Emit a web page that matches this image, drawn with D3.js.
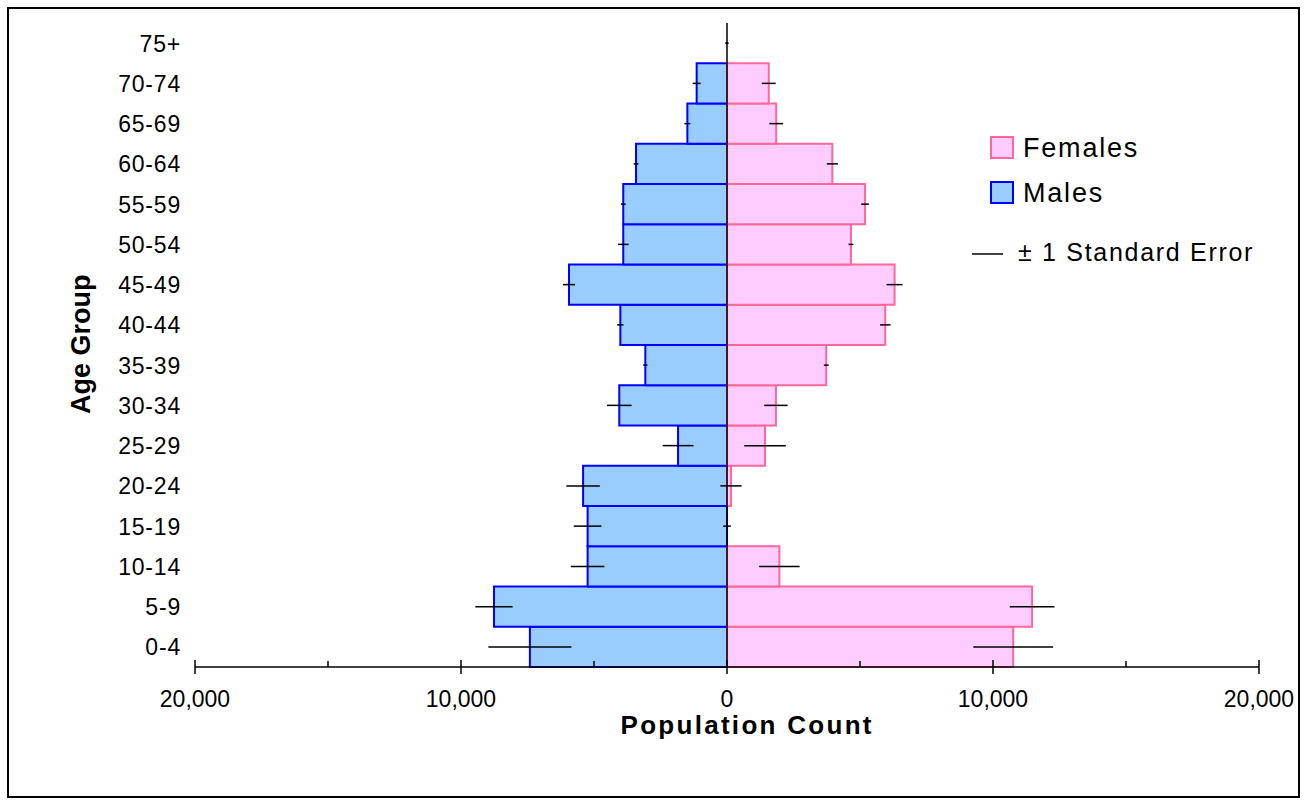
<!DOCTYPE html>
<html>
<head>
<meta charset="utf-8">
<script src="https://cdn.jsdelivr.net/npm/d3@7"></script>
<style>
  body { margin: 0; background: #fff; }
  svg { display: block; font-family: Arial, "Liberation Sans", sans-serif; }
</style>
</head>
<body>
<svg id="chart" width="1307" height="805"></svg>
<script>
const ageGroups = ["0-4", "5-9", "10-14", "15-19", "20-24", "25-29", "30-34", "35-39",
  "40-44", "45-49", "50-54", "55-59", "60-64", "65-69", "70-74", "75+"];
const males = [7410, 8760, 5240, 5240, 5410, 1840, 4050, 3070, 4010, 5940, 3900, 3900, 3420, 1490, 1140, 0];
const maleSE = [1560, 700, 630, 520, 630, 580, 460, 80, 120, 225, 200, 90, 90, 110, 150, 55];
const females = [10760, 11470, 1970, 0, 150, 1430, 1840, 3730, 5950, 6300, 4660, 5190, 3960, 1850, 1570, 0];
const femaleSE = [1500, 840, 760, 145, 400, 780, 440, 90, 200, 300, 90, 145, 210, 260, 260, 55];
const xTicks = [-20000, -10000, 0, 10000, 20000];
const xMinorTicks = [-15000, -5000, 5000, 15000];

const svg = d3.select("#chart");

// outer frame
svg.append("rect")
  .attr("x", 8).attr("y", 8)
  .attr("width", 1291).attr("height", 789)
  .attr("fill", "#fff")
  .attr("stroke", "#000")
  .attr("stroke-width", 2);

const x = d3.scaleLinear().domain([-20000, 20000]).range([195, 1259]);
const y = d3.scaleBand().domain(ageGroups.slice().reverse()).range([23, 667]).padding(0);

// bars
ageGroups.forEach((g, i) => {
  svg.append("rect")
    .attr("x", x(-males[i]))
    .attr("y", y(g))
    .attr("width", x(0) - x(-males[i]))
    .attr("height", y.bandwidth())
    .attr("fill", "#99ccff")
    .attr("stroke", "#0000ff")
    .attr("stroke-width", 2);
});
ageGroups.forEach((g, i) => {
  svg.append("rect")
    .attr("x", x(0))
    .attr("y", y(g))
    .attr("width", x(females[i]) - x(0))
    .attr("height", y.bandwidth())
    .attr("fill", "#ffccff")
    .attr("stroke", "#ff6699")
    .attr("stroke-width", 2);
});

// centre axis
svg.append("line")
  .attr("x1", x(0)).attr("x2", x(0))
  .attr("y1", 23).attr("y2", 667)
  .attr("stroke", "#000").attr("stroke-width", 1.5);

// error bars
ageGroups.forEach((g, i) => {
  const cy = y(g) + y.bandwidth() / 2;
  svg.append("line")
    .attr("x1", x(-males[i] - maleSE[i])).attr("x2", x(-males[i] + maleSE[i]))
    .attr("y1", cy).attr("y2", cy)
    .attr("stroke", "#000").attr("stroke-width", 1.5);
  svg.append("line")
    .attr("x1", x(females[i] - femaleSE[i])).attr("x2", x(females[i] + femaleSE[i]))
    .attr("y1", cy).attr("y2", cy)
    .attr("stroke", "#000").attr("stroke-width", 1.5);
});

// x axis
svg.append("line")
  .attr("x1", x(-20000)).attr("x2", x(20000))
  .attr("y1", 667).attr("y2", 667)
  .attr("stroke", "#000").attr("stroke-width", 1.5);

xTicks.forEach(t => {
  svg.append("line")
    .attr("x1", x(t)).attr("x2", x(t))
    .attr("y1", 660).attr("y2", 674)
    .attr("stroke", "#000").attr("stroke-width", 1.5);
  svg.append("text")
    .attr("x", x(t))
    .attr("y", 707)
    .attr("text-anchor", "middle")
    .attr("font-size", 23)
    .text(d3.format(",")(Math.abs(t)));
});
xMinorTicks.forEach(t => {
  svg.append("line")
    .attr("x1", x(t)).attr("x2", x(t))
    .attr("y1", 661).attr("y2", 667)
    .attr("stroke", "#000").attr("stroke-width", 1.5);
});

// category labels
ageGroups.forEach(g => {
  svg.append("text")
    .attr("x", 181)
    .attr("y", y(g) + y.bandwidth() / 2 + 8.5)
    .attr("text-anchor", "end")
    .attr("font-size", 23)
    .attr("letter-spacing", 0.8)
    .text(g);
});

// axis titles
svg.append("text")
  .attr("x", 746)
  .attr("y", 734)
  .attr("text-anchor", "middle")
  .attr("font-size", 26)
  .attr("font-weight", "bold")
  .attr("textLength", 251)
  .text("Population Count");

svg.append("clipPath").attr("id", "ytitle-clip")
  .append("rect").attr("x", 40).attr("y", 274).attr("width", 80).attr("height", 200);

svg.append("g")
  .attr("clip-path", "url(#ytitle-clip)")
  .append("text")
  .attr("transform", "translate(90,414) rotate(-90)")
  .attr("text-anchor", "start")
  .attr("font-size", 27)
  .attr("font-weight", "bold")
  .text("Age Group");

// legend
const legend = [
  { label: "Females", fill: "#ffccff", stroke: "#ff6699", y: 137 },
  { label: "Males", fill: "#99ccff", stroke: "#0000ff", y: 182 }
];
legend.forEach(d => {
  svg.append("rect")
    .attr("x", 991).attr("y", d.y)
    .attr("width", 22).attr("height", 21)
    .attr("fill", d.fill)
    .attr("stroke", d.stroke)
    .attr("stroke-width", 2);
  svg.append("text")
    .attr("x", 1023)
    .attr("y", d.y + 20)
    .attr("font-size", 27)
    .attr("letter-spacing", 1.8)
    .text(d.label);
});

svg.append("line")
  .attr("x1", 972).attr("x2", 1003)
  .attr("y1", 254).attr("y2", 254)
  .attr("stroke", "#000").attr("stroke-width", 1.5);
svg.append("text")
  .attr("x", 1018)
  .attr("y", 261)
  .attr("font-size", 25)
  .attr("letter-spacing", 1.7)
  .text("± 1 Standard Error");
</script>
</body>
</html>
